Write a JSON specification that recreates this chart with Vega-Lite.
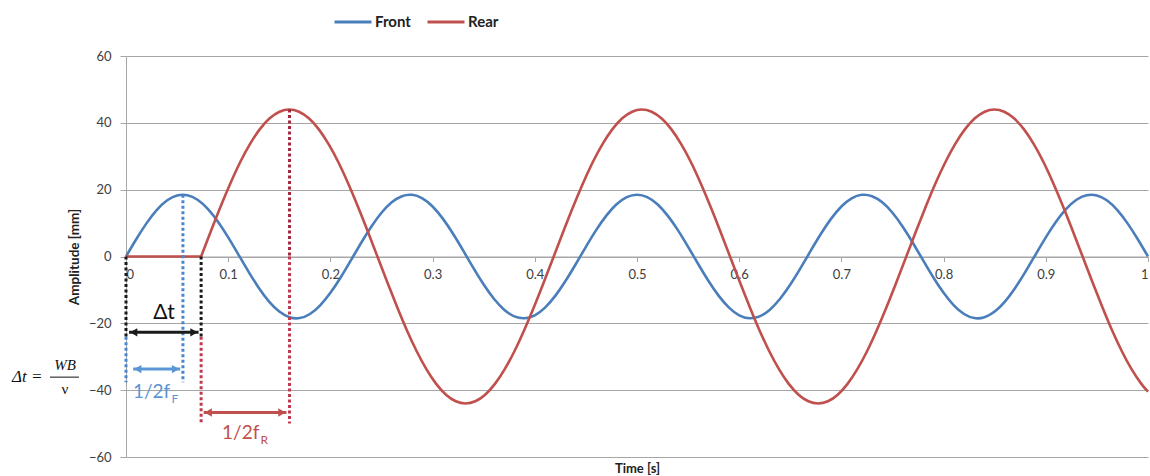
{
"$schema": "https://vega.github.io/schema/vega-lite/v6.json",
"width": 1022,
"height": 401,
"autosize": {"type": "none"},
"padding": {"left": 126, "top": 56, "right": 2, "bottom": 19},
"config": {"view": {"stroke": null}, "font": "Lato"},
"datasets": {
"wave": [
{"t":0,"v":0,"s":"Front","g":"F"},{"t":0.01,"v":5.16,"s":"Front","g":"F"},{"t":0.02,"v":9.91,"s":"Front","g":"F"},{"t":0.03,"v":13.88,"s":"Front","g":"F"},{"t":0.04,"v":16.74,"s":"Front","g":"F"},{"t":0.05,"v":18.27,"s":"Front","g":"F"},{"t":0.06,"v":18.35,"s":"Front","g":"F"},{"t":0.07,"v":16.98,"s":"Front","g":"F"},{"t":0.08,"v":14.25,"s":"Front","g":"F"},{"t":0.09,"v":10.40,"s":"Front","g":"F"},
{"t":0.10,"v":5.72,"s":"Front","g":"F"},{"t":0.11,"v":0.58,"s":"Front","g":"F"},{"t":0.12,"v":-4.60,"s":"Front","g":"F"},{"t":0.13,"v":-9.42,"s":"Front","g":"F"},{"t":0.14,"v":-13.49,"s":"Front","g":"F"},{"t":0.15,"v":-16.48,"s":"Front","g":"F"},{"t":0.16,"v":-18.17,"s":"Front","g":"F"},{"t":0.17,"v":-18.42,"s":"Front","g":"F"},{"t":0.18,"v":-17.20,"s":"Front","g":"F"},{"t":0.19,"v":-14.62,"s":"Front","g":"F"},
{"t":0.20,"v":-10.87,"s":"Front","g":"F"},{"t":0.21,"v":-6.27,"s":"Front","g":"F"},{"t":0.22,"v":-1.16,"s":"Front","g":"F"},{"t":0.23,"v":4.03,"s":"Front","g":"F"},{"t":0.24,"v":8.91,"s":"Front","g":"F"},{"t":0.25,"v":13.08,"s":"Front","g":"F"},{"t":0.26,"v":16.21,"s":"Front","g":"F"},{"t":0.27,"v":18.05,"s":"Front","g":"F"},{"t":0.28,"v":18.46,"s":"Front","g":"F"},{"t":0.29,"v":17.41,"s":"Front","g":"F"},
{"t":0.30,"v":14.97,"s":"Front","g":"F"},{"t":0.31,"v":11.34,"s":"Front","g":"F"},{"t":0.32,"v":6.81,"s":"Front","g":"F"},{"t":0.33,"v":1.74,"s":"Front","g":"F"},{"t":0.34,"v":-3.47,"s":"Front","g":"F"},{"t":0.35,"v":-8.40,"s":"Front","g":"F"},{"t":0.36,"v":-12.66,"s":"Front","g":"F"},{"t":0.37,"v":-15.92,"s":"Front","g":"F"},{"t":0.38,"v":-17.92,"s":"Front","g":"F"},{"t":0.39,"v":-18.49,"s":"Front","g":"F"},
{"t":0.40,"v":-17.60,"s":"Front","g":"F"},{"t":0.41,"v":-15.30,"s":"Front","g":"F"},{"t":0.42,"v":-11.79,"s":"Front","g":"F"},{"t":0.43,"v":-7.35,"s":"Front","g":"F"},{"t":0.44,"v":-2.32,"s":"Front","g":"F"},{"t":0.45,"v":2.89,"s":"Front","g":"F"},{"t":0.46,"v":7.88,"s":"Front","g":"F"},{"t":0.47,"v":12.23,"s":"Front","g":"F"},{"t":0.48,"v":15.62,"s":"Front","g":"F"},{"t":0.49,"v":17.77,"s":"Front","g":"F"},
{"t":0.50,"v":18.5,"s":"Front","g":"F"},{"t":0.51,"v":17.77,"s":"Front","g":"F"},{"t":0.52,"v":15.62,"s":"Front","g":"F"},{"t":0.53,"v":12.23,"s":"Front","g":"F"},{"t":0.54,"v":7.88,"s":"Front","g":"F"},{"t":0.55,"v":2.89,"s":"Front","g":"F"},{"t":0.56,"v":-2.32,"s":"Front","g":"F"},{"t":0.57,"v":-7.35,"s":"Front","g":"F"},{"t":0.58,"v":-11.79,"s":"Front","g":"F"},{"t":0.59,"v":-15.30,"s":"Front","g":"F"},
{"t":0.60,"v":-17.60,"s":"Front","g":"F"},{"t":0.61,"v":-18.49,"s":"Front","g":"F"},{"t":0.62,"v":-17.92,"s":"Front","g":"F"},{"t":0.63,"v":-15.92,"s":"Front","g":"F"},{"t":0.64,"v":-12.66,"s":"Front","g":"F"},{"t":0.65,"v":-8.40,"s":"Front","g":"F"},{"t":0.66,"v":-3.47,"s":"Front","g":"F"},{"t":0.67,"v":1.74,"s":"Front","g":"F"},{"t":0.68,"v":6.81,"s":"Front","g":"F"},{"t":0.69,"v":11.34,"s":"Front","g":"F"},
{"t":0.70,"v":14.97,"s":"Front","g":"F"},{"t":0.71,"v":17.41,"s":"Front","g":"F"},{"t":0.72,"v":18.46,"s":"Front","g":"F"},{"t":0.73,"v":18.05,"s":"Front","g":"F"},{"t":0.74,"v":16.21,"s":"Front","g":"F"},{"t":0.75,"v":13.08,"s":"Front","g":"F"},{"t":0.76,"v":8.91,"s":"Front","g":"F"},{"t":0.77,"v":4.03,"s":"Front","g":"F"},{"t":0.78,"v":-1.16,"s":"Front","g":"F"},{"t":0.79,"v":-6.27,"s":"Front","g":"F"},
{"t":0.80,"v":-10.87,"s":"Front","g":"F"},{"t":0.81,"v":-14.62,"s":"Front","g":"F"},{"t":0.82,"v":-17.20,"s":"Front","g":"F"},{"t":0.83,"v":-18.42,"s":"Front","g":"F"},{"t":0.84,"v":-18.17,"s":"Front","g":"F"},{"t":0.85,"v":-16.48,"s":"Front","g":"F"},{"t":0.86,"v":-13.49,"s":"Front","g":"F"},{"t":0.87,"v":-9.42,"s":"Front","g":"F"},{"t":0.88,"v":-4.60,"s":"Front","g":"F"},{"t":0.89,"v":0.58,"s":"Front","g":"F"},
{"t":0.90,"v":5.72,"s":"Front","g":"F"},{"t":0.91,"v":10.40,"s":"Front","g":"F"},{"t":0.92,"v":14.25,"s":"Front","g":"F"},{"t":0.93,"v":16.98,"s":"Front","g":"F"},{"t":0.94,"v":18.35,"s":"Front","g":"F"},{"t":0.95,"v":18.27,"s":"Front","g":"F"},{"t":0.96,"v":16.74,"s":"Front","g":"F"},{"t":0.97,"v":13.88,"s":"Front","g":"F"},{"t":0.98,"v":9.91,"s":"Front","g":"F"},{"t":0.99,"v":5.16,"s":"Front","g":"F"},
{"t":1.00,"v":0,"s":"Front","g":"F"},
{"t":0,"v":0,"s":"Rear","g":"R0"},{"t":0.0735,"v":0,"s":"Rear","g":"R0"},
{"t":0.0735,"v":0,"s":"Rear","g":"R1"},{"t":0.0831,"v":7.64,"s":"Rear","g":"R1"},{"t":0.0927,"v":15.05,"s":"Rear","g":"R1"},{"t":0.1023,"v":22,"s":"Rear","g":"R1"},{"t":0.1118,"v":28.28,"s":"Rear","g":"R1"},{"t":0.1214,"v":33.7,"s":"Rear","g":"R1"},{"t":0.1310,"v":38.11,"s":"Rear","g":"R1"},{"t":0.1406,"v":41.35,"s":"Rear","g":"R1"},{"t":0.1502,"v":43.33,"s":"Rear","g":"R1"},{"t":0.1597,"v":44,"s":"Rear","g":"R1"},
{"t":0.1693,"v":43.33,"s":"Rear","g":"R1"},{"t":0.1789,"v":41.35,"s":"Rear","g":"R1"},{"t":0.1885,"v":38.11,"s":"Rear","g":"R1"},{"t":0.1981,"v":33.7,"s":"Rear","g":"R1"},{"t":0.2077,"v":28.28,"s":"Rear","g":"R1"},{"t":0.2172,"v":22,"s":"Rear","g":"R1"},{"t":0.2268,"v":15.05,"s":"Rear","g":"R1"},{"t":0.2364,"v":7.64,"s":"Rear","g":"R1"},{"t":0.2460,"v":0,"s":"Rear","g":"R1"},
{"t":0.2556,"v":-7.64,"s":"Rear","g":"R1"},{"t":0.2652,"v":-15.05,"s":"Rear","g":"R1"},{"t":0.2747,"v":-22,"s":"Rear","g":"R1"},{"t":0.2843,"v":-28.28,"s":"Rear","g":"R1"},{"t":0.2939,"v":-33.7,"s":"Rear","g":"R1"},{"t":0.3035,"v":-38.11,"s":"Rear","g":"R1"},{"t":0.3131,"v":-41.35,"s":"Rear","g":"R1"},{"t":0.3227,"v":-43.33,"s":"Rear","g":"R1"},{"t":0.3322,"v":-44,"s":"Rear","g":"R1"},
{"t":0.3418,"v":-43.33,"s":"Rear","g":"R1"},{"t":0.3514,"v":-41.35,"s":"Rear","g":"R1"},{"t":0.3610,"v":-38.11,"s":"Rear","g":"R1"},{"t":0.3706,"v":-33.7,"s":"Rear","g":"R1"},{"t":0.3802,"v":-28.28,"s":"Rear","g":"R1"},{"t":0.3897,"v":-22,"s":"Rear","g":"R1"},{"t":0.3993,"v":-15.05,"s":"Rear","g":"R1"},{"t":0.4089,"v":-7.64,"s":"Rear","g":"R1"},{"t":0.4185,"v":0,"s":"Rear","g":"R1"},
{"t":0.4281,"v":7.64,"s":"Rear","g":"R1"},{"t":0.4377,"v":15.05,"s":"Rear","g":"R1"},{"t":0.4473,"v":22,"s":"Rear","g":"R1"},{"t":0.4568,"v":28.28,"s":"Rear","g":"R1"},{"t":0.4664,"v":33.7,"s":"Rear","g":"R1"},{"t":0.4760,"v":38.11,"s":"Rear","g":"R1"},{"t":0.4856,"v":41.35,"s":"Rear","g":"R1"},{"t":0.4952,"v":43.33,"s":"Rear","g":"R1"},{"t":0.5047,"v":44,"s":"Rear","g":"R1"},
{"t":0.5143,"v":43.33,"s":"Rear","g":"R1"},{"t":0.5239,"v":41.35,"s":"Rear","g":"R1"},{"t":0.5335,"v":38.11,"s":"Rear","g":"R1"},{"t":0.5431,"v":33.7,"s":"Rear","g":"R1"},{"t":0.5527,"v":28.28,"s":"Rear","g":"R1"},{"t":0.5622,"v":22,"s":"Rear","g":"R1"},{"t":0.5718,"v":15.05,"s":"Rear","g":"R1"},{"t":0.5814,"v":7.64,"s":"Rear","g":"R1"},{"t":0.5910,"v":0,"s":"Rear","g":"R1"},
{"t":0.6006,"v":-7.64,"s":"Rear","g":"R1"},{"t":0.6102,"v":-15.05,"s":"Rear","g":"R1"},{"t":0.6197,"v":-22,"s":"Rear","g":"R1"},{"t":0.6293,"v":-28.28,"s":"Rear","g":"R1"},{"t":0.6389,"v":-33.7,"s":"Rear","g":"R1"},{"t":0.6485,"v":-38.11,"s":"Rear","g":"R1"},{"t":0.6581,"v":-41.35,"s":"Rear","g":"R1"},{"t":0.6677,"v":-43.33,"s":"Rear","g":"R1"},{"t":0.6772,"v":-44,"s":"Rear","g":"R1"},
{"t":0.6868,"v":-43.33,"s":"Rear","g":"R1"},{"t":0.6964,"v":-41.35,"s":"Rear","g":"R1"},{"t":0.7060,"v":-38.11,"s":"Rear","g":"R1"},{"t":0.7156,"v":-33.7,"s":"Rear","g":"R1"},{"t":0.7252,"v":-28.28,"s":"Rear","g":"R1"},{"t":0.7347,"v":-22,"s":"Rear","g":"R1"},{"t":0.7443,"v":-15.05,"s":"Rear","g":"R1"},{"t":0.7539,"v":-7.64,"s":"Rear","g":"R1"},{"t":0.7635,"v":0,"s":"Rear","g":"R1"},
{"t":0.7731,"v":7.64,"s":"Rear","g":"R1"},{"t":0.7827,"v":15.05,"s":"Rear","g":"R1"},{"t":0.7922,"v":22,"s":"Rear","g":"R1"},{"t":0.8018,"v":28.28,"s":"Rear","g":"R1"},{"t":0.8114,"v":33.7,"s":"Rear","g":"R1"},{"t":0.8210,"v":38.11,"s":"Rear","g":"R1"},{"t":0.8306,"v":41.35,"s":"Rear","g":"R1"},{"t":0.8402,"v":43.33,"s":"Rear","g":"R1"},{"t":0.8497,"v":44,"s":"Rear","g":"R1"},
{"t":0.8593,"v":43.33,"s":"Rear","g":"R1"},{"t":0.8689,"v":41.35,"s":"Rear","g":"R1"},{"t":0.8785,"v":38.11,"s":"Rear","g":"R1"},{"t":0.8881,"v":33.7,"s":"Rear","g":"R1"},{"t":0.8977,"v":28.28,"s":"Rear","g":"R1"},{"t":0.9072,"v":22,"s":"Rear","g":"R1"},{"t":0.9168,"v":15.05,"s":"Rear","g":"R1"},{"t":0.9264,"v":7.64,"s":"Rear","g":"R1"},{"t":0.9360,"v":0,"s":"Rear","g":"R1"},
{"t":0.9456,"v":-7.64,"s":"Rear","g":"R1"},{"t":0.9552,"v":-15.05,"s":"Rear","g":"R1"},{"t":0.9647,"v":-22,"s":"Rear","g":"R1"},{"t":0.9743,"v":-28.28,"s":"Rear","g":"R1"},{"t":0.9839,"v":-33.7,"s":"Rear","g":"R1"},{"t":0.9935,"v":-38.11,"s":"Rear","g":"R1"},{"t":1.0,"v":-40.45,"s":"Rear","g":"R1"}
]
},
"layer": [
{
"data": {"name": "wave"},
"mark": {"type": "line", "interpolate": "natural", "strokeWidth": 2.6},
"encoding": {
"x": {"field": "t", "type": "quantitative",
"scale": {"domain": [0, 1], "nice": false, "zero": false},
"axis": {"offset": -200.5, "grid": false, "values": [0,0.1,0.2,0.3,0.4,0.5,0.6,0.7,0.8,0.9,1], "format": "~g",
"tickSize": 5, "labelPadding": 7, "labelFontSize": 13, "labelColor": "#404040", "labelFont": "Lato",
"domainColor": "#a6a6a6", "tickColor": "#a6a6a6",
"title": "Time [s]", "titleY": 212, "titleBaseline": "middle", "titleFontWeight": "bold", "titleFontSize": 13, "titleColor": "#222", "titleFont": "Lato"}},
"y": {"field": "v", "type": "quantitative",
"scale": {"domain": [-60, 60], "nice": false, "zero": false},
"axis": {"values": [-60,-40,-20,0,20,40,60], "grid": true, "gridColor": "#a6a6a6", "domainColor": "#a6a6a6", "tickColor": "#a6a6a6",
"tickSize": 6, "labelPadding": 9, "labelFontSize": 13, "labelColor": "#404040", "labelFont": "Lato",
"title": "Amplitude [mm]", "titleX": -52, "titleY": 200.5, "titleBaseline": "middle", "titleFontWeight": "bold", "titleFontSize": 13.5, "titleColor": "#222", "titleFont": "Lato"}},
"color": {"field": "s", "type": "nominal",
"scale": {"domain": ["Front", "Rear"], "range": ["#4a7ebb", "#c0504d"]},
"legend": {"orient": "none", "legendX": 207, "legendY": -54, "direction": "horizontal", "title": null,
"symbolType": "stroke", "symbolSize": 1369, "symbolStrokeWidth": 3,
"labelFont": "Lato", "labelFontWeight": "bold", "labelFontSize": 15, "labelColor": "#222",
"labelOffset": 2, "columnPadding": 10, "padding": 0}},
"detail": {"field": "g", "type": "nominal"}
}
},
{
"data": {"values": [{"t": 0, "v": 0, "v2": -24}, {"t": 0.0735, "v": 0, "v2": -24}]},
"mark": {"type": "rule", "color": "#1a1a1a", "strokeWidth": 3, "strokeDash": [3, 2.5]},
"encoding": {"x": {"field": "t", "type": "quantitative"}, "y": {"field": "v", "type": "quantitative"}, "y2": {"field": "v2"}}
},
{
"data": {"values": [{"t": 0, "v": -24, "v2": -37.6}, {"t": 0.0557, "v": 18.5, "v2": -37.6}]},
"mark": {"type": "rule", "color": "#4a86d0", "strokeWidth": 3, "strokeDash": [3, 2.5]},
"encoding": {"x": {"field": "t", "type": "quantitative"}, "y": {"field": "v", "type": "quantitative"}, "y2": {"field": "v2"}}
},
{
"data": {"values": [{"t": 0.16, "v": 44, "v2": 0}]},
"mark": {"type": "rule", "color": "#a3283e", "strokeWidth": 3, "strokeDash": [3, 2.5]},
"encoding": {"x": {"field": "t", "type": "quantitative"}, "y": {"field": "v", "type": "quantitative"}, "y2": {"field": "v2"}}
},
{
"data": {"values": [{"t": 0.0735, "v": -24, "v2": -50}, {"t": 0.16, "v": 0, "v2": -50}]},
"mark": {"type": "rule", "color": "#c0394f", "strokeWidth": 3, "strokeDash": [3, 2.5]},
"encoding": {"x": {"field": "t", "type": "quantitative"}, "y": {"field": "v", "type": "quantitative"}, "y2": {"field": "v2"}}
},
{
"data": {"values": [{"t": 0.003, "t2": 0.071, "v": -22.7}]},
"mark": {"type": "rule", "color": "#1a1a1a", "strokeWidth": 3},
"encoding": {"x": {"field": "t", "type": "quantitative"}, "x2": {"field": "t2"}, "y": {"field": "v", "type": "quantitative"}}
},
{
"data": {"values": [{"t": 0.0075, "v": -22.7, "d": "l"}, {"t": 0.0665, "v": -22.7, "d": "r"}]},
"mark": {"type": "point", "filled": true, "opacity": 1, "color": "#1a1a1a", "size": 70},
"encoding": {"x": {"field": "t", "type": "quantitative"}, "y": {"field": "v", "type": "quantitative"},
"shape": {"field": "d", "type": "nominal", "scale": {"domain": ["l", "r"], "range": ["triangle-left", "triangle-right"]}, "legend": null}}
},
{
"data": {"values": [{"t": 0.007, "t2": 0.053, "v": -33.7}]},
"mark": {"type": "rule", "color": "#5b95d5", "strokeWidth": 3},
"encoding": {"x": {"field": "t", "type": "quantitative"}, "x2": {"field": "t2"}, "y": {"field": "v", "type": "quantitative"}}
},
{
"data": {"values": [{"t": 0.0115, "v": -33.7, "d": "l"}, {"t": 0.0485, "v": -33.7, "d": "r"}]},
"mark": {"type": "point", "filled": true, "opacity": 1, "color": "#5b95d5", "size": 70},
"encoding": {"x": {"field": "t", "type": "quantitative"}, "y": {"field": "v", "type": "quantitative"},
"shape": {"field": "d", "type": "nominal", "legend": null}}
},
{
"data": {"values": [{"t": 0.076, "t2": 0.157, "v": -46.7}]},
"mark": {"type": "rule", "color": "#c0504d", "strokeWidth": 3},
"encoding": {"x": {"field": "t", "type": "quantitative"}, "x2": {"field": "t2"}, "y": {"field": "v", "type": "quantitative"}}
},
{
"data": {"values": [{"t": 0.0805, "v": -46.7, "d": "l"}, {"t": 0.1525, "v": -46.7, "d": "r"}]},
"mark": {"type": "point", "filled": true, "opacity": 1, "color": "#c0504d", "size": 70},
"encoding": {"x": {"field": "t", "type": "quantitative"}, "y": {"field": "v", "type": "quantitative"},
"shape": {"field": "d", "type": "nominal", "legend": null}}
},
{
"data": {"values": [{"t": 0.0372, "v": -17, "label": "Δt"}]},
"mark": {"type": "text", "font": "Lato", "fontSize": 21, "color": "#111", "align": "center", "baseline": "middle"},
"encoding": {"x": {"field": "t", "type": "quantitative"}, "y": {"field": "v", "type": "quantitative"}, "text": {"field": "label"}}
},
{
"data": {"values": [{"t": 0.0068, "v": -40.6, "label": "1/2f"}]},
"mark": {"type": "text", "font": "Lato", "fontSize": 19, "color": "#5b95d5", "align": "left", "baseline": "middle"},
"encoding": {"x": {"field": "t", "type": "quantitative"}, "y": {"field": "v", "type": "quantitative"}, "text": {"field": "label"}}
},
{
"data": {"values": [{"t": 0.0445, "v": -42.6, "label": "F"}]},
"mark": {"type": "text", "font": "Lato", "fontSize": 12, "color": "#5b95d5", "align": "left", "baseline": "middle"},
"encoding": {"x": {"field": "t", "type": "quantitative"}, "y": {"field": "v", "type": "quantitative"}, "text": {"field": "label"}}
},
{
"data": {"values": [{"t": 0.094, "v": -52.9, "label": "1/2f"}]},
"mark": {"type": "text", "font": "Lato", "fontSize": 19, "color": "#c0504d", "align": "left", "baseline": "middle"},
"encoding": {"x": {"field": "t", "type": "quantitative"}, "y": {"field": "v", "type": "quantitative"}, "text": {"field": "label"}}
},
{
"data": {"values": [{"t": 0.1315, "v": -55, "label": "R"}]},
"mark": {"type": "text", "font": "Lato", "fontSize": 12, "color": "#c0504d", "align": "left", "baseline": "middle"},
"encoding": {"x": {"field": "t", "type": "quantitative"}, "y": {"field": "v", "type": "quantitative"}, "text": {"field": "label"}}
},
{
"data": {"values": [{"t": -0.1115, "v": -36.2, "label": "Δt ="}]},
"mark": {"type": "text", "font": "Liberation Serif", "fontStyle": "italic", "fontSize": 17, "color": "#111", "align": "left", "baseline": "middle"},
"encoding": {"x": {"field": "t", "type": "quantitative"}, "y": {"field": "v", "type": "quantitative"}, "text": {"field": "label"}}
},
{
"data": {"values": [{"t": -0.0597, "v": -32.4, "label": "WB"}]},
"mark": {"type": "text", "font": "Liberation Serif", "fontStyle": "italic", "fontSize": 15, "color": "#111", "align": "center", "baseline": "middle"},
"encoding": {"x": {"field": "t", "type": "quantitative"}, "y": {"field": "v", "type": "quantitative"}, "text": {"field": "label"}}
},
{
"data": {"values": [{"t": -0.0597, "v": -39.6, "label": "ν"}]},
"mark": {"type": "text", "font": "Liberation Serif", "fontSize": 15, "color": "#111", "align": "center", "baseline": "middle"},
"encoding": {"x": {"field": "t", "type": "quantitative"}, "y": {"field": "v", "type": "quantitative"}, "text": {"field": "label"}}
},
{
"data": {"values": [{"t": -0.0744, "t2": -0.046, "v": -36.1}]},
"mark": {"type": "rule", "color": "#111", "strokeWidth": 1},
"encoding": {"x": {"field": "t", "type": "quantitative"}, "x2": {"field": "t2"}, "y": {"field": "v", "type": "quantitative"}}
}
]
}
